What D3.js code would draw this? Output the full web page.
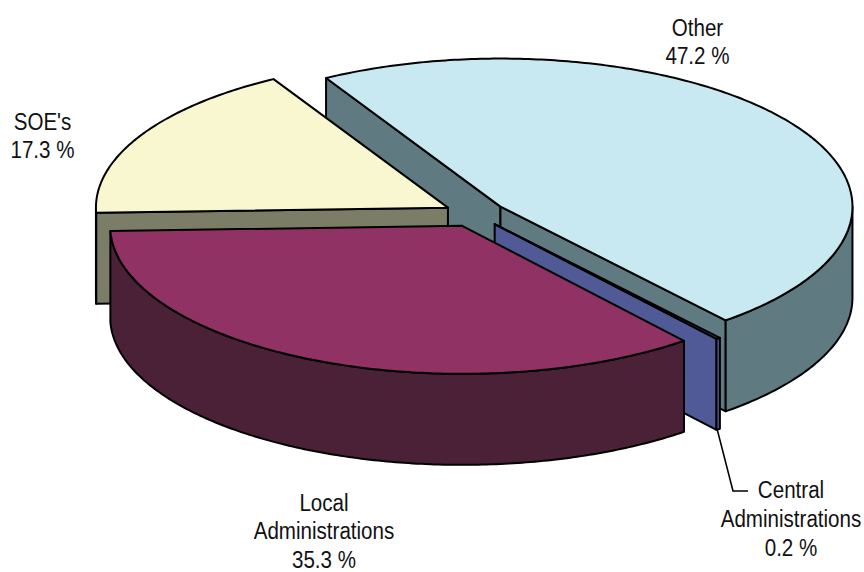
<!DOCTYPE html>
<html><head><meta charset="utf-8">
<script src="https://cdn.jsdelivr.net/npm/d3@7"></script>
<style>html,body{margin:0;padding:0;background:#fff}svg{display:block}
text{font-family:"Liberation Sans",sans-serif;font-size:23.5px;fill:#111;text-anchor:middle}</style>
</head><body><script>
const categories = ["Other", "Central Administrations", "Local Administrations", "SOE's"];
const shares = [47.2, 0.2, 35.3, 17.3];
const topColors = ["#C8E9F1", "#4F5A97", "#903263", "#F9F7CF"];
const sideColors = ["#5F7A80", "#4F5A97", "#4B2137", "#7C7D67"];
const drawOrder = [0, 1, 3, 2];
const labelLines = [["Other", "47.2 %"], ["Central", "Administrations", "0.2 %"], ["Local", "Administrations", "35.3 %"], ["SOE's", "17.3 %"]];
const labelX = [697.5, 791, 324, 42.5];
const labelY = [36, 498, 511, 130];
const labelGap = [28.3, 29, 28.5, 28];

const W = 864, H = 572, depth = 91, explode = 0.088, narrow = 0.875;
const rad = d => d * Math.PI / 180;
const sx = d3.scaleLinear().domain([-1, 1]).range([475 - 352, 475 + 352]);
const sy = d3.scaleLinear().domain([-1, 1]).range([214 - 148, 214 + 148]);
const svg = d3.select("body").append("svg").attr("width", W).attr("height", H);
const arcs = d3.pie().sort(null).startAngle(rad(-29.7)).endAngle(rad(330.3))(shares);
const line = d3.line();
const poly = pts => line(pts) + "Z";

function rimPts(off, a0, a1, dy) {
  const n = Math.max(2, Math.ceil((a1 - a0) * 80));
  return d3.range(n + 1).map(i => {
    const a = a0 + (a1 - a0) * i / n;
    return [sx(off[0] + Math.sin(a)), sy(off[1] - Math.cos(a)) + dy];
  });
}
function face(d, fill) {
  return svg.append("path").attr("d", d).attr("fill", fill).attr("stroke", "#000")
    .attr("stroke-width", 2).attr("stroke-linejoin", "round");
}
drawOrder.forEach(i => {
  const a = arcs[i], mid = (a.startAngle + a.endAngle) / 2;
  const off = [explode * Math.sin(mid), -explode * Math.cos(mid)];
  const apex = [sx(off[0]), sy(off[1])];
  const wall = ang => {
    const p = rimPts(off, ang, ang, 0)[0];
    face(poly([apex, p, [p[0], p[1] + depth], [apex[0], apex[1] + depth]]), sideColors[i]);
  };
  if (Math.sin(a.startAngle) < 0) wall(a.startAngle);
  if (Math.sin(a.endAngle) > 0) wall(a.endAngle);
  const r0 = Math.max(a.startAngle, Math.PI / 2), r1 = Math.min(a.endAngle, 3 * Math.PI / 2);
  if (r1 > r0) face(poly(rimPts(off, r0, r1, 0).concat(rimPts(off, r0, r1, depth).reverse())), sideColors[i]);
  face(poly([apex].concat(rimPts(off, a.startAngle, a.endAngle, 0))), topColors[i]);
});
// leader for the Central Administrations label
const cen = arcs[1], cm = (cen.startAngle + cen.endAngle) / 2;
const lx = sx(explode * Math.sin(cm) + Math.sin(cm)) - 1, ly = sy(-explode * Math.cos(cm) - Math.cos(cm)) + depth;
svg.append("path").attr("d", line([[lx, ly], [733, 491], [748, 491]])).attr("fill", "none").attr("stroke", "#000").attr("stroke-width", 1.6);

categories.forEach((c, i) => {
  const g = svg.append("g").attr("transform", `translate(${labelX[i]},${labelY[i]}) scale(${narrow},1)`);
  const t = g.append("text");
  labelLines[i].forEach((s, k) => t.append("tspan").attr("x", 0).attr("y", k * labelGap[i]).text(s));
});
</script></body></html>
